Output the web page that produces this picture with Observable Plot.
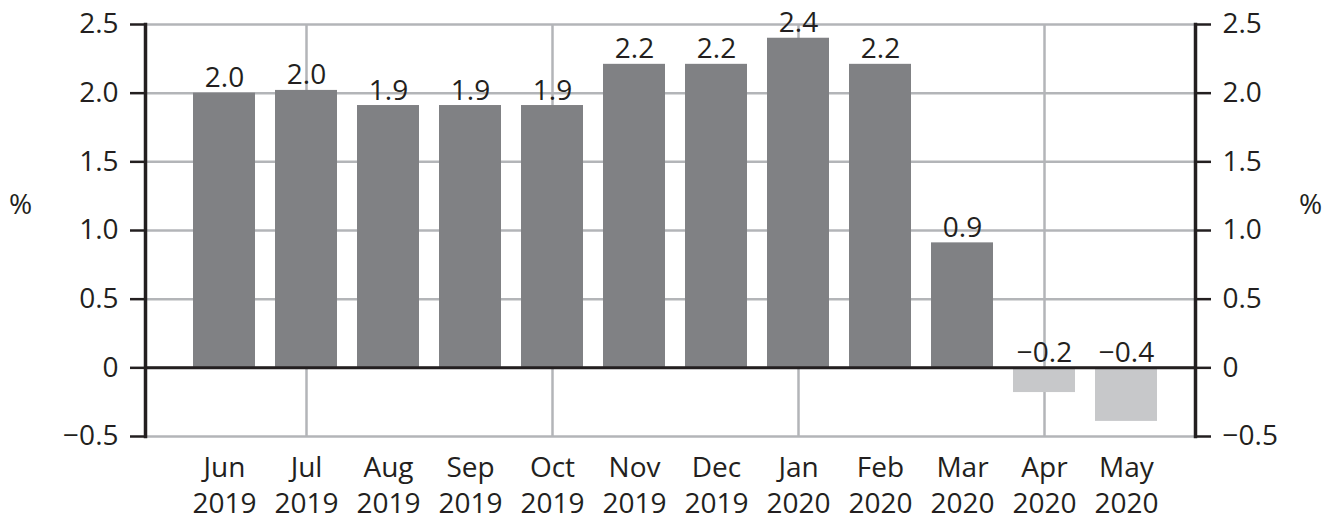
<!DOCTYPE html>
<html>
<head>
<meta charset="utf-8">
<script src="https://cdn.jsdelivr.net/npm/d3@7"></script>
<script src="https://cdn.jsdelivr.net/npm/@observablehq/plot@0.6"></script>
<style>
  html, body { margin: 0; padding: 0; background: #fff; }
</style>
</head>
<body>
<div id="chart"></div>
<script>
const months = ["Jun\n2019", "Jul\n2019", "Aug\n2019", "Sep\n2019", "Oct\n2019", "Nov\n2019",
                "Dec\n2019", "Jan\n2020", "Feb\n2020", "Mar\n2020", "Apr\n2020", "May\n2020"];
const values = [2.0, 2.02, 1.91, 1.91, 1.91, 2.21, 2.21, 2.4, 2.21, 0.91, -0.18, -0.39];
const valueLabels = ["2.0", "2.0", "1.9", "1.9", "1.9", "2.2", "2.2", "2.4", "2.2", "0.9", "−0.2", "−0.4"];
const yTicks = [-0.5, 0, 0.5, 1, 1.5, 2, 2.5];
const yTickLabels = ["−0.5", "0", "0.5", "1.0", "1.5", "2.0", "2.5"];
const gridMonths = ["Jul\n2019", "Oct\n2019", "Jan\n2020", "Apr\n2020"];
const unitLabel = ["%"];

const data = months.map((m, i) => ({month: m, value: values[i], label: valueLabels[i]}));

const ink = "#231f20";
const dark = "#808184";
const light = "#c7c8ca";
const grid = "#b3b5b8";
const fs = 28;
const fmt = d => yTickLabels[yTicks.indexOf(d)];

const chart = Plot.plot({
  width: 1338,
  height: 525,
  marginTop: 24,
  marginBottom: 89,
  marginLeft: 145,
  marginRight: 143,
  style: {fontFamily: "'Open Sans', sans-serif", fontSize: fs + "px", color: ink, background: "#fff"},
  x: {domain: months, range: [193, 1157], paddingInner: 0.244, paddingOuter: 0},
  y: {domain: [-0.5, 2.5]},
  marks: [
    Plot.gridY(yTicks, {stroke: grid, strokeOpacity: 1, strokeWidth: 2.5}),
    Plot.ruleX(gridMonths, {x: d => d, stroke: grid, strokeWidth: 2.5, y1: -0.5, y2: 2.5}),
    Plot.barY(data, {x: "month", y: "value", fill: d => d.value < 0 ? light : dark}),
    Plot.ruleY([0], {stroke: ink, strokeWidth: 3}),
    Plot.frame({anchor: "left", stroke: ink, strokeWidth: 3.5}),
    Plot.frame({anchor: "right", stroke: ink, strokeWidth: 3.5}),
    Plot.axisY({anchor: "left", ticks: yTicks, tickFormat: fmt, tickSize: 15, tickPadding: 12,
                strokeWidth: 2.5, stroke: ink, fill: ink, fontSize: fs, label: null}),
    Plot.axisY({anchor: "right", ticks: yTicks, tickFormat: fmt, tickSize: 15, tickPadding: 12,
                strokeWidth: 2.5, stroke: ink, fill: ink, fontSize: fs, label: null}),
    Plot.axisX({anchor: "bottom", tickSize: 0, tickPadding: 14, lineHeight: 1.31,
                fill: ink, fontSize: fs, label: null}),
    Plot.text(data, {x: "month", y: d => Math.max(0, d.value), text: "label",
                     lineAnchor: "bottom", dy: -6, fill: ink, fontSize: fs}),
    Plot.text(unitLabel, {text: d => d, frameAnchor: "left", dx: -125, dy: -25,
                          textAnchor: "middle", fill: ink, fontSize: fs}),
    Plot.text(unitLabel, {text: d => d, frameAnchor: "right", dx: 115, dy: -25,
                          textAnchor: "middle", fill: ink, fontSize: fs})
  ]
});
document.getElementById("chart").appendChild(chart);
</script>
</body>
</html>
